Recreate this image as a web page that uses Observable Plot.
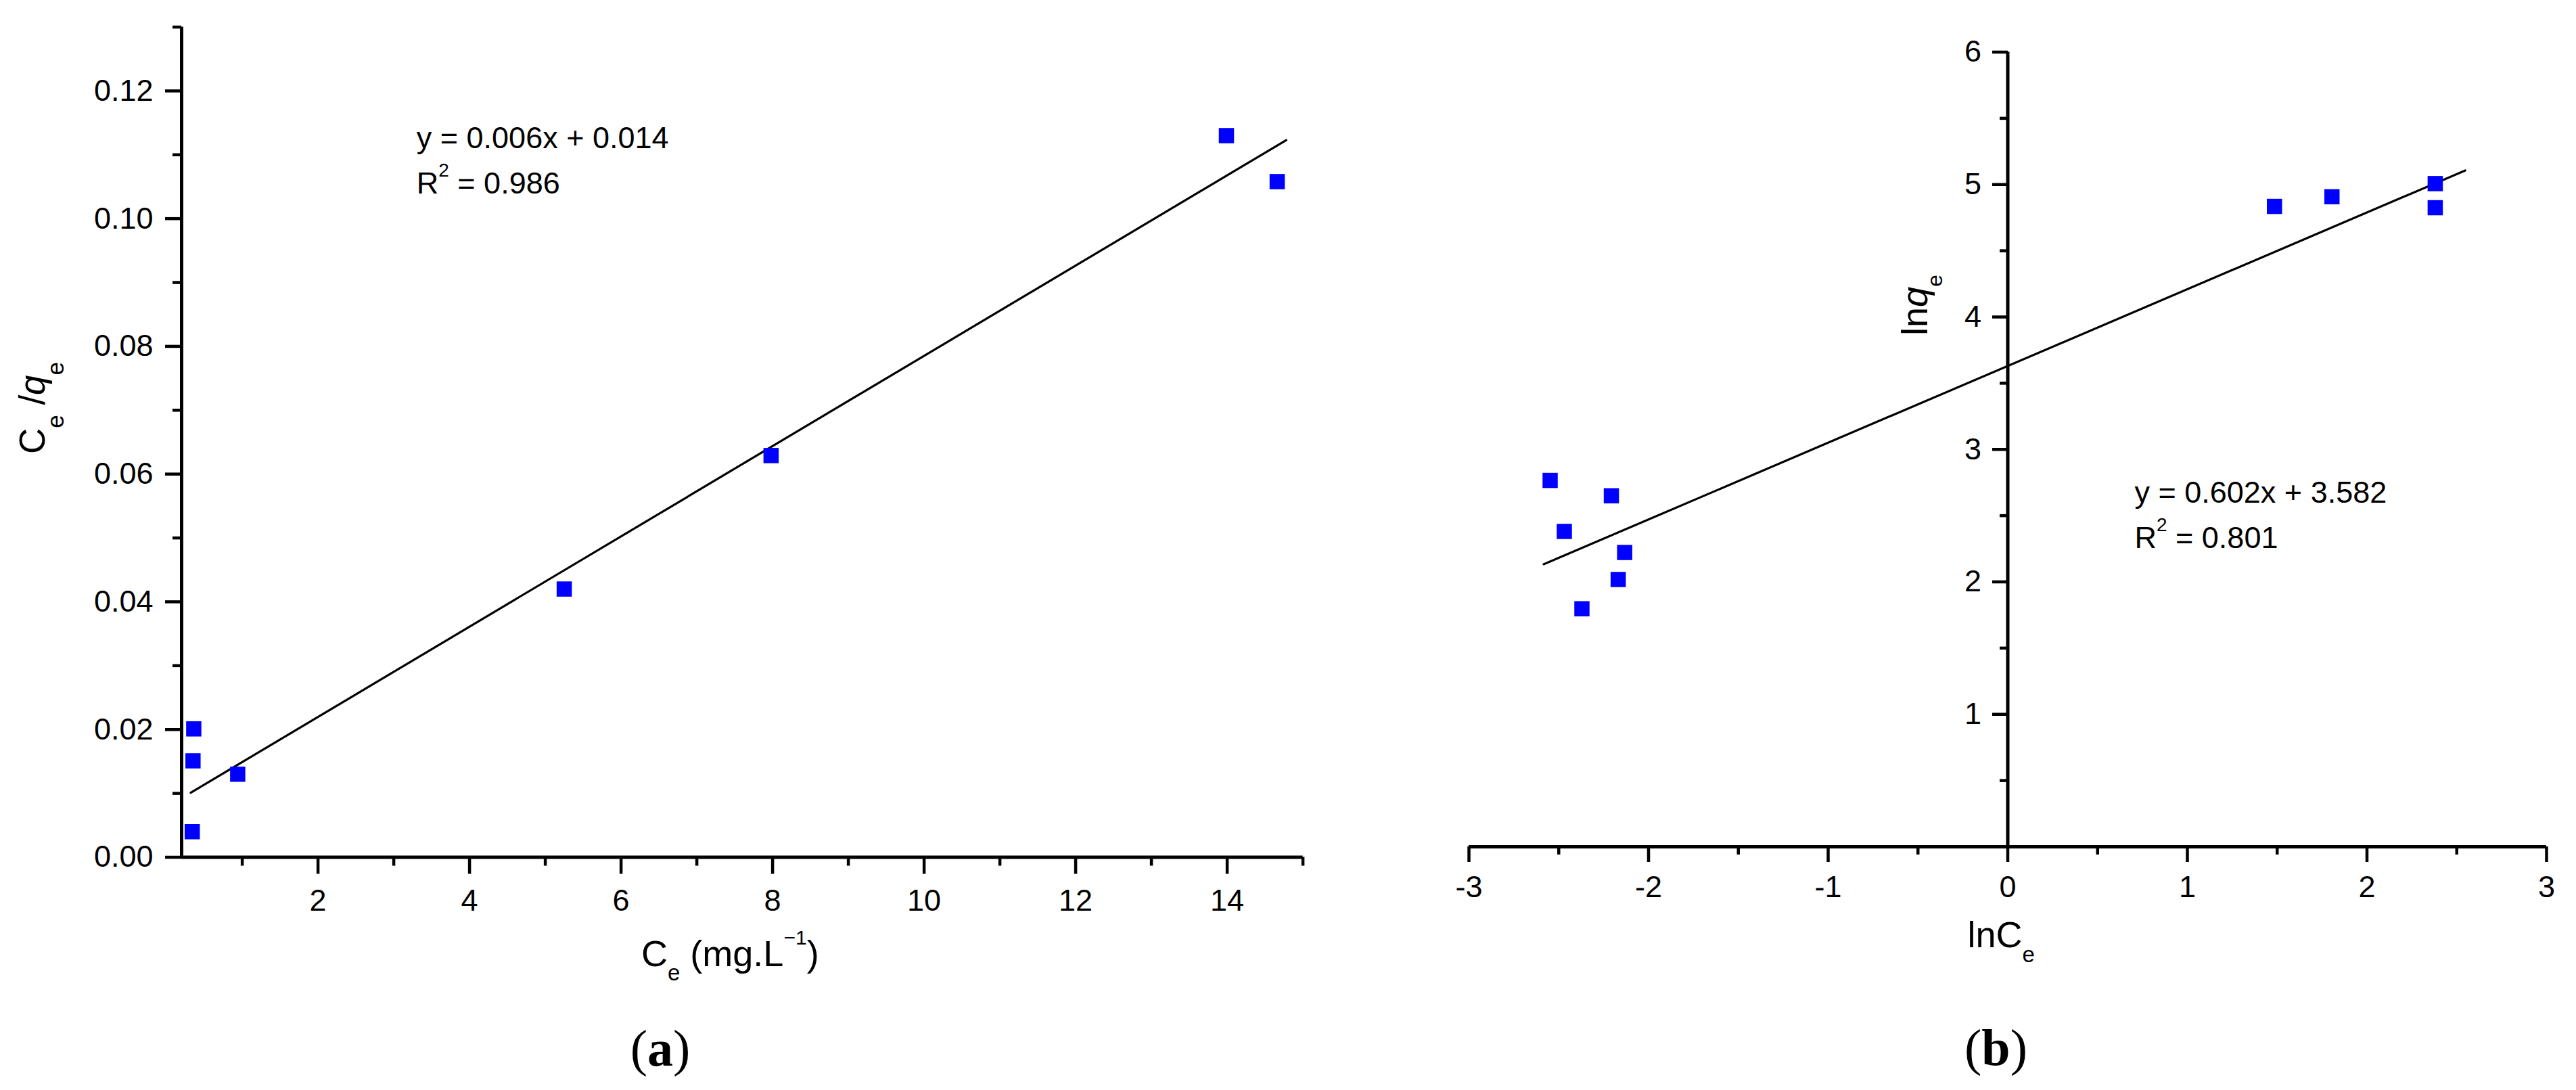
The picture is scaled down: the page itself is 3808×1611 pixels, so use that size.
<!DOCTYPE html>
<html>
<head>
<meta charset="utf-8">
<script src="https://cdn.jsdelivr.net/npm/d3@7"></script>
<script src="https://cdn.jsdelivr.net/npm/@observablehq/plot@0.6"></script>
<style>
  html, body { margin: 0; padding: 0; background: #fff; }
  #wrap { position: relative; width: 3808px; height: 1611px; overflow: hidden; background: #fff; }
  #wrap svg { position: absolute; top: 0; }
</style>
</head>
<body>
<div id="wrap"></div>
<script>
// ---------- Panel (a): Ce/qe vs Ce ----------
const ceA      = [0.36, 0.35, 0.34, 0.94, 5.25, 7.98, 13.99, 14.66];
const ceQeA    = [0.0201, 0.0151, 0.0040, 0.0130, 0.0420, 0.0629, 0.1130, 0.1058];
const fitAx    = [0.32, 14.78];
const fitAy    = [0.0101, 0.1123];
const xDomA    = [0.2, 15];
const yDomA    = [0, 0.13];
const xTicksA  = [2, 4, 6, 8, 10, 12, 14];
const xMinorA  = [1, 3, 5, 7, 9, 11, 13, 15];
const yTicksA  = [0, 0.02, 0.04, 0.06, 0.08, 0.10, 0.12];
const yMinorA  = [0.01, 0.03, 0.05, 0.07, 0.09, 0.11, 0.13];
const eqA      = ["y = 0.006x + 0.014", " = 0.986"];

// ---------- Panel (b): lnqe vs lnCe ----------
const lnCeB    = [-2.548, -2.469, -2.371, -2.207, -2.169, -2.133, 1.485, 1.805, 2.380, 2.380];
const lnQeB    = [2.766, 2.381, 1.797, 2.650, 2.018, 2.222, 4.835, 4.908, 5.007, 4.825];
const fitBx    = [-2.584, 2.547];
const fitBy    = [2.133, 5.106];
const xDomB    = [-3, 3];
const yDomB    = [0, 6];
const xTicksB  = [-3, -2, -1, 0, 1, 2, 3];
const xMinorB  = [-2.5, -1.5, -0.5, 0.5, 1.5, 2.5];
const yTicksB  = [1, 2, 3, 4, 5, 6];
const yMinorB  = [0.5, 1.5, 2.5, 3.5, 4.5, 5.5];
const eqB      = ["y = 0.602x + 3.582", " = 0.801"];

const FONT = "'Liberation Sans', Arial, Helvetica, sans-serif";
const SERIF = "'Liberation Serif', 'Times New Roman', serif";
const BLUE = "#0000ff";
const TICK_FS = 45;

const ptsA = ceA.map((x, i) => ({x, y: ceQeA[i]}));
const lineA = fitAx.map((x, i) => ({x, y: fitAy[i]}));
const ptsB = lnCeB.map((x, i) => ({x, y: lnQeB[i]}));
const lineB = fitBx.map((x, i) => ({x, y: fitBy[i]}));

// custom symbol: a short horizontal tick pointing left from the anchor
const tickLeft = {
  draw(ctx, size) {
    const l = Math.sqrt(size / Math.PI);
    ctx.moveTo(0, 0);
    ctx.lineTo(-l, 0);
  }
};

const plotA = Plot.plot({
  width: 2000,
  height: 1611,
  marginLeft: 268,
  marginRight: 74.4,
  marginTop: 39.5,
  marginBottom: 344.5,
  x: {domain: xDomA},
  y: {domain: yDomA},
  style: {fontFamily: FONT, fontSize: TICK_FS + "px", background: "#fff", color: "#000"},
  marks: [
    Plot.axisX({ticks: xTicksA, tickSize: 25, tickPadding: 22, strokeWidth: 4.5, fontSize: TICK_FS, label: null, tickFormat: d => String(d)}),
    Plot.axisX({ticks: xMinorA, tickSize: 13, strokeWidth: 4.5, text: null, label: null}),
    Plot.axisY({ticks: yTicksA, tickSize: 24, tickPadding: 18, strokeWidth: 4.5, fontSize: TICK_FS, label: null, tickFormat: d3.format(".2f")}),
    Plot.axisY({ticks: yMinorA, tickSize: 13, strokeWidth: 4.5, text: null, label: null}),
    Plot.ruleX([xDomA[0]], {stroke: "#000", strokeWidth: 5}),
    Plot.ruleY([yDomA[0]], {stroke: "#000", strokeWidth: 5}),
    Plot.line(lineA, {x: "x", y: "y", stroke: "#000", strokeWidth: 3.2}),
    Plot.dot(ptsA, {x: "x", y: "y", symbol: "square", r: 12.7, fill: BLUE, stroke: "none"})
  ]
});

const plotB = Plot.plot({
  width: 1808,
  height: 1611,
  marginLeft: 171,
  marginRight: 44,
  marginTop: 76.5,
  marginBottom: 360,
  x: {domain: xDomB},
  y: {domain: yDomB, axis: null},
  style: {fontFamily: FONT, fontSize: TICK_FS + "px", background: "#fff", color: "#000"},
  marks: [
    Plot.axisX({ticks: xTicksB, tickSize: 23, tickPadding: 20, strokeWidth: 4.5, fontSize: TICK_FS, label: null, tickFormat: d => String(d)}),
    Plot.axisX({ticks: xMinorB, tickSize: 12, strokeWidth: 4.5, text: null, label: null}),
    Plot.ruleX([0], {stroke: "#000", strokeWidth: 5}),
    Plot.ruleY([yDomB[0]], {stroke: "#000", strokeWidth: 5}),
    Plot.dot(yTicksB, {x: 0, y: d => d, symbol: tickLeft, r: 23, stroke: "#000", strokeWidth: 4.5, fill: "none"}),
    Plot.dot(yMinorB, {x: 0, y: d => d, symbol: tickLeft, r: 12, stroke: "#000", strokeWidth: 4.5, fill: "none"}),
    Plot.text(yTicksB, {x: 0, y: d => d, text: d => String(d), textAnchor: "end", dx: -39, fontSize: TICK_FS, fill: "#000"}),
    Plot.line(lineB, {x: "x", y: "y", stroke: "#000", strokeWidth: 3.2}),
    Plot.dot(ptsB, {x: "x", y: "y", symbol: "square", r: 12.7, fill: BLUE, stroke: "none"})
  ]
});

plotA.style.left = "0px";
plotB.style.left = "2000px";
const wrap = document.getElementById("wrap");
wrap.appendChild(plotA);
wrap.appendChild(plotB);

// rich text helper (subscripts, superscripts, italics)
function richText(svg, x, y, opts, parts) {
  const t = d3.select(svg).append("text")
    .attr("transform", `translate(${x},${y})` + (opts.rotate ? ` rotate(${opts.rotate})` : ""))
    .attr("text-anchor", opts.anchor || "start")
    .attr("font-family", opts.family || FONT)
    .attr("font-size", opts.size)
    .attr("fill", "#000")
    .style("white-space", "pre");
  let cur = 0;
  for (const p of parts) {
    const s = t.append("tspan").text(p.t);
    const target = p.shift || 0;
    if (target !== cur) { s.attr("dy", target - cur); cur = target; }
    if (p.size) s.attr("font-size", p.size);
    if (p.italic) s.attr("font-style", "italic");
    if (p.bold) s.attr("font-weight", "bold");
  }
  return t;
}

// ----- annotations panel (a)
{
  const sx = plotA.scale("x"), sy = plotA.scale("y");
  const x0 = sx.apply(xDomA[0]), y0 = sy.apply(yDomA[0]);
  richText(plotA, sx.apply(3.305), sy.apply(0.1110), {size: 45}, [{t: eqA[0]}]);
  richText(plotA, sx.apply(3.305), sy.apply(0.1039), {size: 45},
    [{t: "R"}, {t: "2", size: 28, shift: -25}, {t: eqA[1], shift: 0}]);
  // x label
  richText(plotA, x0 + 680, y0 + 161, {size: 54},
    [{t: "C"}, {t: "e", size: 33, shift: 21}, {t: " (mg.L", shift: 0}, {t: "\u22121", size: 30, shift: -32}, {t: ")", shift: 0}]);
  // y label
  richText(plotA, x0 - 202, 603, {size: 53, rotate: -90, anchor: "middle"},
    [{t: "C"}, {t: "e", size: 35, shift: 28}, {t: " /", shift: 0}, {t: "q", italic: true}, {t: "e", size: 35, shift: 28}]);
  // caption
  richText(plotA, 976, 1575, {size: 76, family: SERIF, anchor: "middle"},
    [{t: "("}, {t: "a", bold: true}, {t: ")"}]);
}

// ----- annotations panel (b)
{
  const sx = plotB.scale("x"), sy = plotB.scale("y");
  const xz = sx.apply(0), y0 = sy.apply(0);
  richText(plotB, sx.apply(0.708), sy.apply(2.595), {size: 45}, [{t: eqB[0]}]);
  richText(plotB, sx.apply(0.708), sy.apply(2.253), {size: 45},
    [{t: "R"}, {t: "2", size: 28, shift: -25}, {t: eqB[1], shift: 0}]);
  // y label
  richText(plotB, xz - 119, 451, {size: 54, rotate: -90, anchor: "middle"},
    [{t: "ln"}, {t: "q", italic: true}, {t: "e", size: 32, shift: 22}]);
  // x label
  richText(plotB, xz - 59, y0 + 149, {size: 54},
    [{t: "lnC"}, {t: "e", size: 33, shift: 22}]);
  // caption
  richText(plotB, xz - 17, 1574, {size: 76, family: SERIF, anchor: "middle"},
    [{t: "("}, {t: "b", bold: true}, {t: ")"}]);
}
</script>
</body>
</html>
